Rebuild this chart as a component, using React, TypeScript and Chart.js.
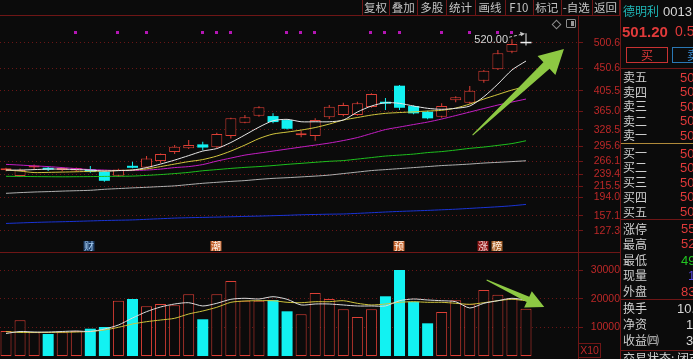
import React, { useEffect, useRef } from 'react';
import { Chart, registerables } from 'chart.js';

Chart.register(...registerables);

// ---------------- data ----------------
const openP = [248.0, 236.3, 253.2, 250.2, 248.3, 247.3, 250.2, 244.9, 236.9, 254.2, 253.6, 266.1, 284.0, 291.4, 299.3, 293.4, 315.8, 342.2, 356.1, 355.5, 347.6, 317.2, 315.8, 353.0, 357.5, 357.5, 373.4, 381.4, 415.8, 375.4, 364.1, 354.2, 387.0, 382.0, 425.7, 448.3, 483.3, 500.0];
const closeP = [251.0, 248.3, 255.0, 249.0, 252.2, 252.2, 244.3, 227.0, 249.6, 252.8, 271.5, 280.0, 294.5, 297.9, 293.0, 319.8, 351.0, 353.0, 372.8, 343.6, 330.3, 319.8, 347.6, 374.0, 377.4, 380.8, 399.3, 380.0, 372.0, 360.9, 351.0, 375.4, 392.7, 405.8, 445.6, 480.1, 498.6, 500.0];
const highP = [253.0, 251.6, 259.5, 255.2, 254.0, 253.5, 256.2, 246.0, 251.0, 264.7, 276.1, 281.0, 297.9, 307.9, 304.5, 322.4, 352.0, 357.5, 375.0, 360.9, 349.0, 326.3, 351.0, 377.4, 381.9, 384.0, 401.0, 391.3, 417.0, 377.0, 366.0, 380.8, 395.0, 415.2, 447.0, 486.7, 508.0, 520.0];
const lowP = [246.0, 234.3, 249.5, 246.3, 246.0, 245.0, 243.0, 225.0, 235.0, 252.0, 252.5, 261.6, 280.0, 290.0, 287.7, 292.0, 311.2, 341.0, 354.0, 341.0, 329.0, 313.2, 306.5, 349.6, 355.0, 356.0, 372.0, 367.5, 367.5, 359.0, 349.0, 352.0, 383.0, 380.0, 421.7, 447.0, 480.1, 495.6];

const ma5 = [248.3, 248.3, 249.2, 250.2, 250.2, 249.2, 248.3, 246.3, 247.3, 248.3, 253.2, 260.2, 268.1, 277.0, 286.0, 291.0, 303.0, 318.0, 333.5, 346.2, 349.0, 344.2, 344.2, 344.2, 347.6, 363.5, 375.4, 382.0, 380.8, 375.4, 370.9, 368.9, 370.9, 375.4, 393.9, 419.1, 447.0, 464.8];
const ma10 = [248.3, 246.3, 243.3, 243.7, 244.3, 244.9, 245.7, 246.3, 247.3, 248.3, 250.6, 255.2, 260.2, 265.1, 269.1, 276.1, 286.0, 297.9, 310.8, 319.8, 323.7, 327.7, 332.7, 339.6, 347.6, 352.6, 357.5, 360.9, 362.5, 363.9, 365.5, 366.9, 371.4, 379.4, 389.3, 398.3, 407.2, 414.2];
const ma20 = [259.6, 258.2, 256.6, 255.2, 253.2, 251.2, 249.2, 248.3, 247.3, 247.3, 248.3, 250.2, 253.2, 255.2, 259.2, 266.1, 272.1, 278.0, 282.0, 286.0, 290.0, 294.0, 297.9, 301.9, 306.9, 312.8, 320.8, 328.7, 333.7, 338.7, 343.6, 349.6, 356.5, 363.5, 370.5, 377.4, 383.4, 389.3];
const ma60 = [235.9, 235.7, 235.3, 235.1, 234.9, 235.1, 235.3, 235.7, 235.9, 236.3, 237.7, 239.3, 241.3, 243.7, 246.9, 249.2, 251.6, 253.6, 255.2, 257.2, 259.6, 261.6, 263.7, 265.7, 267.1, 270.1, 273.1, 276.1, 278.0, 280.0, 283.0, 285.0, 288.0, 291.4, 294.0, 297.3, 300.9, 306.5];
const ma120 = [202.1, 203.5, 204.7, 205.5, 206.5, 207.3, 208.1, 210.1, 211.5, 212.9, 214.1, 215.5, 216.9, 219.5, 222.0, 224.0, 225.8, 227.4, 229.8, 231.8, 233.1, 234.7, 236.3, 238.3, 241.3, 244.3, 247.3, 249.2, 251.2, 253.2, 255.2, 257.2, 258.6, 260.2, 262.2, 263.6, 265.1, 266.7];
const ma250 = [142.3, 143.3, 144.3, 145.1, 145.7, 146.5, 147.3, 148.1, 148.7, 149.3, 150.5, 151.7, 152.9, 153.7, 154.3, 154.9, 155.5, 156.3, 156.9, 157.7, 158.5, 159.5, 160.1, 160.7, 161.1, 162.3, 163.6, 165.0, 166.2, 167.2, 168.2, 169.4, 170.6, 172.2, 173.8, 175.4, 177.4, 180.1];

const volume = [8770, 12520, 8310, 7720, 8310, 8770, 9580, 10180, 19400, 20000, 17440, 18250, 17790, 21650, 12880, 21650, 26320, 19400, 19400, 19650, 15680, 14630, 22110, 20000, 16390, 13690, 16390, 20950, 30180, 19050, 11470, 15440, 19540, 18140, 23160, 21510, 20250, 16600];
const volMa5 = [7900, 8600, 8420, 8420, 8600, 8770, 8600, 9470, 10880, 13330, 15550, 17190, 18250, 18700, 17550, 18490, 19900, 20250, 20000, 20810, 19900, 17900, 18250, 18250, 17900, 17550, 17550, 17550, 19400, 20000, 19650, 19400, 19050, 16840, 18490, 19400, 20250, 19650];
const volMa10 = [8530, 8250, 8250, 8250, 8320, 8420, 8600, 9120, 10070, 11230, 12040, 12630, 13230, 14740, 15790, 17090, 18840, 19300, 19400, 19400, 18840, 18700, 19050, 19050, 19400, 18490, 17900, 18250, 18840, 19050, 18840, 18840, 18490, 18140, 18700, 19400, 19900, 19400];

const priceTicks = [500.6, 450.6, 405.5, 365.0, 328.5, 295.6, 266.1, 239.4, 215.5, 194.0, 157.1, 127.3];
const volTicks = [30000, 20000, 10000];

const signalIdx = [5, 8, 10, 14, 15, 16, 20, 21, 22, 26, 27, 28, 31, 33, 35, 36];
const eventIdx = [6, 15, 28, 34, 35];
const eventText = ['财', '潮', '预', '涨', '榜'];

const toolbarItems = ['复权', '叠加', '多股', '统计', '画线', 'F10', '标记', '-自选', '返回'];
const askLabels = ['卖五', '卖四', '卖三', '卖二', '卖一'];
const bidLabels = ['买一', '买二', '买三', '买四', '买五'];
const bookValues = ['50', '50', '50', '50', '50', '50', '50', '50', '50', '50'];
const statLabels = ['涨停', '最高', '最低', '现量', '外盘'];
const statValues = ['55', '52', '49', '1', '83'];
const infoLabels = ['换手', '净资', '收益㈣'];
const infoValues = ['10.', '1', '3'];

// ---------------- styles ----------------
const BG = '#0b0b0b';
const RED = '#dc3f35';
const CYAN = '#12f2f2';
const WHITE = '#f0f0f0';
const GRIDC = '#6a1616';
const LINEC = '#6e1616';
const LABELC = '#bd2828';
const ARROW = '#8dc843';
const CJK = '"Noto Sans CJK SC", sans-serif';
const LAT = '"Liberation Sans", Arial, sans-serif';
const X_MIN = -0.427;
const X_MAX = 40.70;

const EVENT_STYLE: any = {
  '财': { bg: '#1c3c66', fg: '#a9d0f5' },
  '潮': { bg: '#c4622c', fg: '#fff4e8' },
  '预': { bg: '#c4622c', fg: '#fff4e8' },
  '涨': { bg: '#8e1616', fg: '#f4d8d8' },
  '榜': { bg: '#a8622a', fg: '#fff0e0' },
};

const idx = openP.map((_, i) => i);

function drawArrow(ctx: any, x1: number, y1: number, x2: number, y2: number, tailW: number, shaftW: number, headW: number, headL: number) {
  const dx = x2 - x1, dy = y2 - y1;
  const L = Math.hypot(dx, dy);
  const ux = dx / L, uy = dy / L;
  const nx = -uy, ny = ux;
  const bx = x2 - ux * headL, by = y2 - uy * headL;
  ctx.beginPath();
  ctx.moveTo(x1 + nx * tailW / 2, y1 + ny * tailW / 2);
  ctx.lineTo(bx + nx * shaftW / 2, by + ny * shaftW / 2);
  ctx.lineTo(bx + nx * headW / 2, by + ny * headW / 2);
  ctx.lineTo(x2, y2);
  ctx.lineTo(bx - nx * headW / 2, by - ny * headW / 2);
  ctx.lineTo(bx - nx * shaftW / 2, by - ny * shaftW / 2);
  ctx.lineTo(x1 - nx * tailW / 2, y1 - ny * tailW / 2);
  ctx.closePath();
  ctx.fillStyle = ARROW;
  ctx.fill();
}

const priceAnnot = {
  id: 'priceAnnot',
  afterDatasetsDraw(chart: any) {
    const { ctx, chartArea, scales } = chart;
    const xs = scales.x, ys = scales.y;
    ctx.save();
    ctx.fillStyle = '#b416b4';
    signalIdx.forEach((i) => {
      const px = Math.round(xs.getPixelForValue(i)) - 2;
      ctx.fillRect(px, chartArea.top + 15, 3, 3);
    });
    ctx.font = `10px ${CJK}`;
    ctx.textAlign = 'center';
    ctx.textBaseline = 'middle';
    eventIdx.forEach((i, k) => {
      const cx = Math.round(xs.getPixelForValue(i)) - 1;
      const st = EVENT_STYLE[eventText[k]];
      ctx.fillStyle = st.bg;
      ctx.fillRect(cx - 5.5, chartArea.bottom - 11, 11, 10);
      ctx.fillStyle = st.fg;
      ctx.fillText(eventText[k], cx, chartArea.bottom - 6);
    });
    let mi = 0;
    highP.forEach((h, i) => { if (h > highP[mi]) mi = i; });
    const hx = xs.getPixelForValue(mi);
    const hy = ys.getPixelForValue(highP[mi]);
    ctx.font = `11px ${LAT}`;
    ctx.textAlign = 'right';
    ctx.textBaseline = 'alphabetic';
    ctx.fillStyle = '#d4d4d4';
    ctx.fillText(highP[mi].toFixed(2), hx - 18, hy + 10);
    ctx.strokeStyle = '#c8c8c8';
    ctx.lineWidth = 1;
    ctx.setLineDash([3, 2]);
    ctx.beginPath();
    ctx.moveTo(hx - 17, hy + 4);
    ctx.lineTo(hx - 4, hy + 1);
    ctx.stroke();
    ctx.setLineDash([]);
    ctx.beginPath();
    ctx.moveTo(hx - 1, hy + 0.5);
    ctx.lineTo(hx - 6, hy - 1.5);
    ctx.lineTo(hx - 5, hy + 3);
    ctx.closePath();
    ctx.fillStyle = '#c8c8c8';
    ctx.fill();
    ctx.restore();
  },
  afterDraw(chart: any) {
    const { ctx, scales } = chart;
    ctx.save();
    drawArrow(ctx,
      scales.x.getPixelForValue(33.2), scales.y.getPixelForValue(317.8),
      scales.x.getPixelForValue(39.7), scales.y.getPixelForValue(488.7),
      1, 9, 26, 24);
    ctx.restore();
  },
};

const volAnnot = {
  id: 'volAnnot',
  afterDraw(chart: any) {
    const { ctx, scales } = chart;
    ctx.save();
    drawArrow(ctx,
      scales.x.getPixelForValue(34.2), scales.y.getPixelForValue(26670),
      scales.x.getPixelForValue(38.3), scales.y.getPixelForValue(17190),
      1, 6, 18, 18);
    ctx.restore();
  },
};

const up = (i: number) => closeP[i] > openP[i];
const down = (i: number) => closeP[i] < openP[i];
const flat = (i: number) => closeP[i] === openP[i];

const wickData = (pred: any) => idx.filter(pred).map((i) => ({ x: i, y: [lowP[i], highP[i]] }));
const bodyData = (pred: any) => idx.filter(pred).map((i) => ({ x: i, y: [openP[i], closeP[i]] }));
const lineData = (arr: number[]) => arr.map((v, i) => ({ x: i, y: v }));

const barBase = {
  type: 'bar',
  grouped: false,
  barPercentage: 1,
  categoryPercentage: 1,
  inflateAmount: 0,
  borderSkipped: false,
};

function lineDs(data: number[], color: string) {
  return {
    type: 'line',
    data: lineData(data),
    borderColor: color,
    borderWidth: 1,
    pointRadius: 0,
    tension: 0.25,
    fill: false,
    order: -1,
  };
}

function yScale(min: number, max: number, ticks: number[], fmt: any, pad: number) {
  return {
    type: 'linear',
    position: 'right',
    min,
    max,
    afterBuildTicks: (s: any) => { s.ticks = ticks.map((v) => ({ value: v })); },
    afterFit: (s: any) => { s.width = 42; s.paddingTop = 0; s.paddingBottom = 0; },
    grid: { color: GRIDC, lineWidth: 1, drawTicks: true, tickLength: 5, tickColor: LINEC },
    border: { display: false, dash: [1, 3] },
    ticks: {
      autoSkip: false,
      color: LABELC,
      font: { size: 10.5, family: LAT },
      padding: pad,
      crossAlign: 'far',
      callback: fmt,
    },
  };
}

const xScale = { type: 'linear', min: X_MIN, max: X_MAX, display: false, offset: false, grid: { display: false } };

function priceConfig(): any {
  return {
    type: 'bar',
    data: {
      datasets: [
        lineDs(ma5, '#e6e6e6'),
        lineDs(ma10, '#d2c63e'),
        lineDs(ma20, '#c41ec4'),
        lineDs(ma60, '#1ec01e'),
        lineDs(ma120, '#b0b0b0'),
        lineDs(ma250, '#1a34d6'),
        { ...barBase, data: bodyData(up), backgroundColor: BG, borderColor: RED, borderWidth: 1, maxBarThickness: 11, minBarLength: 2, order: 0 },
        { ...barBase, data: bodyData(down), backgroundColor: CYAN, borderColor: CYAN, borderWidth: 0, maxBarThickness: 11, minBarLength: 2, order: 0 },
        { ...barBase, data: bodyData(flat), backgroundColor: WHITE, borderWidth: 0, maxBarThickness: 11, minBarLength: 1.5, order: 0 },
        { ...barBase, data: wickData(up), backgroundColor: RED, borderWidth: 0, maxBarThickness: 1, order: 1 },
        { ...barBase, data: wickData(down), backgroundColor: CYAN, borderWidth: 0, maxBarThickness: 1, order: 1 },
        { ...barBase, data: wickData(flat), backgroundColor: WHITE, borderWidth: 0, maxBarThickness: 1, order: 1 },
      ],
    },
    options: {
      animation: false,
      responsive: false,
      maintainAspectRatio: false,
      events: [],
      layout: { padding: { top: 16, bottom: 1, left: 0, right: 0 } },
      plugins: { legend: { display: false }, tooltip: { enabled: false } },
      scales: {
        x: xScale,
        y: yScale(85.6, 554.2, priceTicks, (v: number) => Number(v).toFixed(1), 2.5),
      },
    },
    plugins: [priceAnnot],
  };
}

function volConfig(): any {
  const upIdx = idx.filter((i) => !down(i));
  const dnIdx = idx.filter((i) => down(i));
  return {
    type: 'bar',
    data: {
      datasets: [
        lineDs(volMa5, '#dcdcdc'),
        lineDs(volMa10, '#cfc43c'),
        { ...barBase, data: upIdx.map((i) => ({ x: i, y: volume[i] })), backgroundColor: BG, borderColor: RED, borderWidth: 1, maxBarThickness: 11, order: 1 },
        { ...barBase, data: dnIdx.map((i) => ({ x: i, y: volume[i] })), backgroundColor: CYAN, borderWidth: 0, maxBarThickness: 11, order: 1 },
      ],
    },
    options: {
      animation: false,
      responsive: false,
      maintainAspectRatio: false,
      events: [],
      layout: { padding: { top: 1, bottom: 3, left: 0, right: 0 } },
      plugins: { legend: { display: false }, tooltip: { enabled: false } },
      scales: {
        x: xScale,
        y: yScale(0, 35789, volTicks, (v: number) => String(v), 0.5),
      },
    },
    plugins: [volAnnot],
  };
}

const abs = (l: number, t: number, w: number, h: number, extra: any = {}) => ({ position: 'absolute', left: l, top: t, width: w, height: h, ...extra } as any);

function Txt({ x, y, size, color, font, bold, children }: any) {
  return (
    <div style={{ position: 'absolute', left: x, top: y - size * 0.48, fontSize: size, lineHeight: 1, color, fontFamily: font || CJK, fontWeight: bold ? 700 : 400, whiteSpace: 'nowrap' }}>
      {children}
    </div>
  );
}

const toolbarEdges = [361.7, 389.3, 417.3, 446, 475, 505, 532.7, 560.7, 591.7, 619.3];
const askY = [77, 91.5, 106, 120.5, 135];
const bidY = [153, 167, 182, 196.7, 211.7];
const statY = [228.5, 243.5, 260, 275, 291];
const infoY = [308, 324, 340];
const statColors = ['#e03a3a', '#e03a3a', '#22c422', '#5a4ae0', '#e03a3a'];

export default function App() {
  const priceRef = useRef<HTMLCanvasElement>(null);
  const volRef = useRef<HTMLCanvasElement>(null);

  useEffect(() => {
    const pc = new Chart(priceRef.current as any, priceConfig());
    const vc = new Chart(volRef.current as any, volConfig());
    return () => { pc.destroy(); vc.destroy(); };
  }, []);

  const P = 620; // panel left
  return (
    <div style={{ position: 'fixed', left: 0, top: 0, width: 693, height: 359, background: BG, overflow: 'hidden' }}>
      <canvas ref={priceRef} width={620} height={253} style={abs(0, 0, 620, 253)} />
      <canvas ref={volRef} width={620} height={106} style={abs(0, 253, 620, 106)} />

      {/* frame lines */}
      <div style={abs(0, 15, 620, 1, { background: LINEC })} />
      <div style={abs(0, 252, 620, 1, { background: LINEC })} />
      <div style={abs(578, 15, 1, 344, { background: LINEC })} />
      <div style={abs(620, 0, 1, 359, { background: LINEC })} />

      {/* toolbar */}
      {toolbarEdges.map((e, i) => (
        <div key={'te' + i} style={abs(Math.round(e), 0, 1, 15, { background: LINEC })} />
      ))}
      {toolbarItems.map((t, i) => (
        <div key={'tb' + i} style={abs(toolbarEdges[i], 0, toolbarEdges[i + 1] - toolbarEdges[i], 15, { color: '#c4c4c4', fontSize: 11.5, fontFamily: CJK, lineHeight: '14px', textAlign: 'center', whiteSpace: 'nowrap' })}>{t}</div>
      ))}

      {/* chart icons */}
      <div style={abs(553, 21, 5, 5, { border: '1px solid #8c8c8c', transform: 'rotate(45deg)' })} />
      <div style={abs(566, 19, 8, 7, { border: '1px solid #8c8c8c', borderRadius: 1 })}>
        <div style={abs(4, 1, 3, 5, { background: '#9a9a9a' })} />
      </div>

      {/* X10 box */}
      <div style={abs(578, 343, 21, 13, { border: `1px solid ${LINEC}`, color: LABELC, fontSize: 10.5, fontFamily: LAT, lineHeight: '13px', textAlign: 'center' })}>X10</div>

      {/* right panel */}
      <div style={abs(P + 1, 0, 72, 359, { overflow: 'hidden' })}>
        <div style={{ position: 'relative', left: -(P + 1), width: 693, height: 359 }}>
          <Txt x={623} y={11} size={12} color="#1fb5b5">德明利</Txt>
          <Txt x={663} y={11} size={13} color="#d8d8d8" font={LAT}>0013</Txt>
          <Txt x={622} y={31} size={15} color="#e03a3a" font={LAT} bold>501.20</Txt>
          <Txt x={675} y={31} size={14} color="#e03a3a" font={LAT}>0.57</Txt>
          <div style={abs(626, 47, 42, 16, { border: '1px solid #c83232', boxSizing: 'border-box', color: '#e03a3a', fontSize: 12, fontFamily: CJK, lineHeight: '14px', textAlign: 'center' })}>买</div>
          <div style={abs(672, 47, 42, 16, { border: '1px solid #2a78b4', boxSizing: 'border-box', color: '#3a8ad0', fontSize: 12, fontFamily: CJK, lineHeight: '14px', textAlign: 'center' })}>卖</div>
          <div style={abs(621, 68, 72, 1, { background: LINEC })} />
          {askLabels.map((t, i) => <Txt key={'a' + i} x={623} y={askY[i]} size={12} color="#cfcfcf">{t}</Txt>)}
          {askLabels.map((_, i) => <Txt key={'av' + i} x={680} y={askY[i]} size={13} color="#e03a3a" font={LAT}>{bookValues[i]}</Txt>)}
          <div style={abs(621, 143, 72, 1, { background: '#b08a3a' })} />
          {bidLabels.map((t, i) => <Txt key={'b' + i} x={623} y={bidY[i]} size={12} color="#cfcfcf">{t}</Txt>)}
          {bidLabels.map((_, i) => <Txt key={'bv' + i} x={680} y={bidY[i]} size={13} color="#e03a3a" font={LAT}>{bookValues[i + 5]}</Txt>)}
          <div style={abs(621, 219, 72, 1, { background: LINEC })} />
          {statLabels.map((t, i) => <Txt key={'s' + i} x={623} y={statY[i]} size={12} color="#cfcfcf">{t}</Txt>)}
          {statValues.map((t, i) => <Txt key={'sv' + i} x={i === 3 ? 688 : 681} y={statY[i]} size={13} color={statColors[i]} font={LAT}>{t}</Txt>)}
          <div style={abs(621, 299, 72, 1, { background: LINEC })} />
          {infoLabels.map((t, i) => <Txt key={'n' + i} x={623} y={infoY[i]} size={12} color="#cfcfcf">{t}</Txt>)}
          {infoValues.map((t, i) => <Txt key={'nv' + i} x={i === 0 ? 677 : 686} y={infoY[i]} size={13} color="#d8d8d8" font={LAT}>{t}</Txt>)}
          <div style={abs(621, 350, 72, 1, { background: LINEC })} />
          <Txt x={623} y={358} size={12} color="#cfcfcf">交易状态: 闭市</Txt>
        </div>
      </div>
    </div>
  );
}
